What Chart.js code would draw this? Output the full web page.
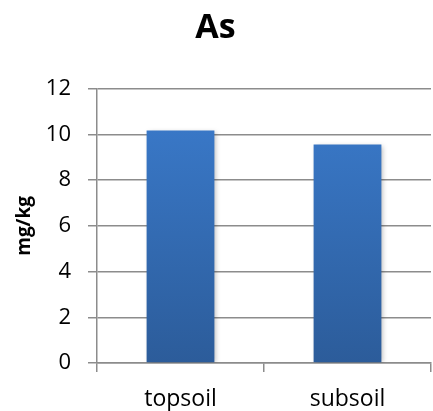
<!DOCTYPE html>
<html>
<head>
<meta charset="utf-8">
<script src="https://cdn.jsdelivr.net/npm/chart.js@4"></script>
<style>
  html, body { margin: 0; padding: 0; background: #fff; }
  #wrap { width: 433px; height: 411px; }
</style>
</head>
<body>
<div id="wrap"><canvas id="myChart" width="433" height="411"></canvas></div>
<script>
const categories = ['topsoil', 'subsoil'];
const asValues = [10.17, 9.56];
const yTicks = [0, 2, 4, 6, 8, 10, 12];

const gridColor = '#8c8c8c';
const fontFamily = "'Open Sans', 'Noto Sans', sans-serif";

// vertical blue gradient, lighter at the top of the plot
function barFill(context) {
    const chart = context.chart;
    const area = chart.chartArea;
    if (!area) return '#3a78c5';
    const g = chart.ctx.createLinearGradient(0, area.top, 0, area.bottom);
    g.addColorStop(0, '#3b7cce');
    g.addColorStop(1, '#2c5c9a');
    return g;
}

// soft drop shadow behind the bars
const barShadow = {
    id: 'barShadow',
    beforeDatasetsDraw(chart) {
        const ctx = chart.ctx;
        ctx.save();
        ctx.shadowColor = 'rgba(0,0,0,0.28)';
        ctx.shadowBlur = 5;
        ctx.shadowOffsetX = 2;
        ctx.shadowOffsetY = 1;
    },
    afterDatasetsDraw(chart) {
        chart.ctx.restore();
    }
};

var ctx = document.getElementById('myChart').getContext('2d');
var chart = new Chart(ctx, {
    type: 'bar',
    data: {
        labels: categories,
        datasets: [{
            label: 'As',
            data: asValues,
            backgroundColor: barFill,
            borderWidth: 0,
            categoryPercentage: 1,
            barPercentage: 0.406
        }]
    },
    plugins: [barShadow],
    options: {
        responsive: false,
        animation: false,
        layout: { padding: { left: 0, right: 2, top: 0, bottom: 0 } },
        plugins: {
            legend: { display: false },
            tooltip: { enabled: false },
            title: {
                display: true,
                text: 'As',
                color: '#000',
                font: { family: fontFamily, size: 34, weight: 'bold' },
                padding: { top: 8, bottom: 40 }
            }
        },
        scales: {
            x: {
                offset: true,
                grid: {
                    offset: true,
                    drawOnChartArea: false,
                    color: gridColor,
                    lineWidth: 1.5,
                    tickLength: 9
                },
                border: { color: gridColor, width: 1.5 },
                ticks: {
                    color: '#000',
                    padding: 14,
                    font: { family: fontFamily, size: 23 }
                },
                afterFit(scale) { scale.height = 48; }
            },
            y: {
                min: 0,
                max: 12,
                afterBuildTicks(scale) {
                    scale.ticks = yTicks.map(v => ({ value: v }));
                },
                grid: {
                    color: gridColor,
                    lineWidth: 1.5,
                    tickLength: 9
                },
                border: { color: gridColor, width: 1.5 },
                ticks: {
                    color: '#000',
                    padding: 17,
                    font: { family: fontFamily, size: 22 }
                },
                title: {
                    display: true,
                    text: 'mg/kg',
                    color: '#000',
                    font: { family: fontFamily, size: 19, weight: 'bold' },
                    padding: { top: 13, bottom: 0 }
                },
                afterFit(scale) { scale.width = 97; }
            }
        }
    }
});
</script>
</body>
</html>
